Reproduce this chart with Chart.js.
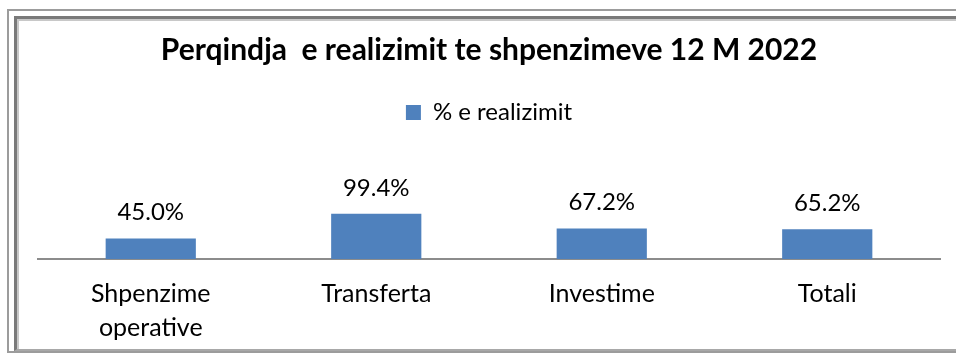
<!DOCTYPE html>
<html>
<head>
<meta charset="utf-8">
<script src="https://cdn.jsdelivr.net/npm/chart.js@4.4.1/dist/chart.umd.min.js"></script>
<style>
  html, body { margin: 0; padding: 0; background: #fff; width: 956px; height: 354px; overflow: hidden; }
  .frame-outer { position: absolute; left: 7px; top: 9px; width: 1000px; height: 340px;
    border: 2px solid #9c9c9c; border-right: none; }
  .frame-inner { position: absolute; left: 14px; top: 16px; width: 1000px; height: 330px;
    border-top: 3px solid #7a7a7a; border-left: 3px solid #7a7a7a; border-bottom: 2px solid #a8a8a8;
    box-shadow: inset 2px 2px 0 #c8c8c8; }
  #wrap { position: absolute; left: 0; top: 0; width: 956px; height: 354px; }
</style>
</head>
<body>
<div class="frame-outer"></div>
<div class="frame-inner"></div>
<div id="wrap"><canvas id="c" width="956" height="354"></canvas></div>
<script>
const categories = [['Shpenzime', 'operative'], 'Transferta', 'Investime', 'Totali'];
const realizationPct = [45.0, 99.4, 67.2, 65.2];
const seriesName = '% e realizimit';
const chartTitle = 'Perqindja  e realizimit te shpenzimeve 12 M 2022';

const FONT = 'Lato, "Open Sans", sans-serif';

// Value labels printed above each bar
const barValueLabels = {
  id: 'barValueLabels',
  afterDatasetsDraw(chart) {
    const ctx = chart.ctx;
    const meta = chart.getDatasetMeta(0);
    const values = chart.data.datasets[0].data;
    ctx.save();
    ctx.font = '24px ' + FONT;
    ctx.fillStyle = '#000';
    ctx.textAlign = 'center';
    ctx.textBaseline = 'middle';
    meta.data.forEach((bar, i) => {
      ctx.fillText(values[i].toFixed(1) + '%', bar.x, bar.y - 26);
    });
    ctx.restore();
  }
};

new Chart(document.getElementById('c'), {
  type: 'bar',
  data: {
    labels: categories,
    datasets: [{
      label: seriesName,
      data: realizationPct,
      backgroundColor: '#4F81BD',
      borderWidth: 0,
      categoryPercentage: 0.8,
      barPercentage: 0.5
    }]
  },
  options: {
    responsive: false,
    animation: false,
    devicePixelRatio: 1,
    layout: { padding: { left: 38, right: 16, top: 32, bottom: 0 } },
    plugins: {
      tooltip: { enabled: false },
      title: {
        display: true,
        text: chartTitle,
        color: '#000',
        font: { family: FONT, size: 30, weight: 'bold', lineHeight: 1.2 },
        padding: { top: 0, bottom: 22.5 }
      },
      legend: {
        display: true,
        position: 'top',
        labels: {
          color: '#000',
          boxWidth: 15,
          boxHeight: 15,
          padding: 10,
          font: { family: FONT, size: 24 }
        }
      }
    },
    scales: {
      x: {
        grid: { display: false, drawTicks: false },
        border: { display: true, color: '#8c8c8c', width: 2 },
        ticks: {
          color: '#000',
          padding: 18,
          font: { family: FONT, size: 25, lineHeight: 1.36 }
        },
        afterFit(scale) { scale.height = 95; }
      },
      y: {
        display: false,
        min: 0,
        max: 274
      }
    }
  },
  plugins: [barValueLabels]
});
</script>
</body>
</html>
